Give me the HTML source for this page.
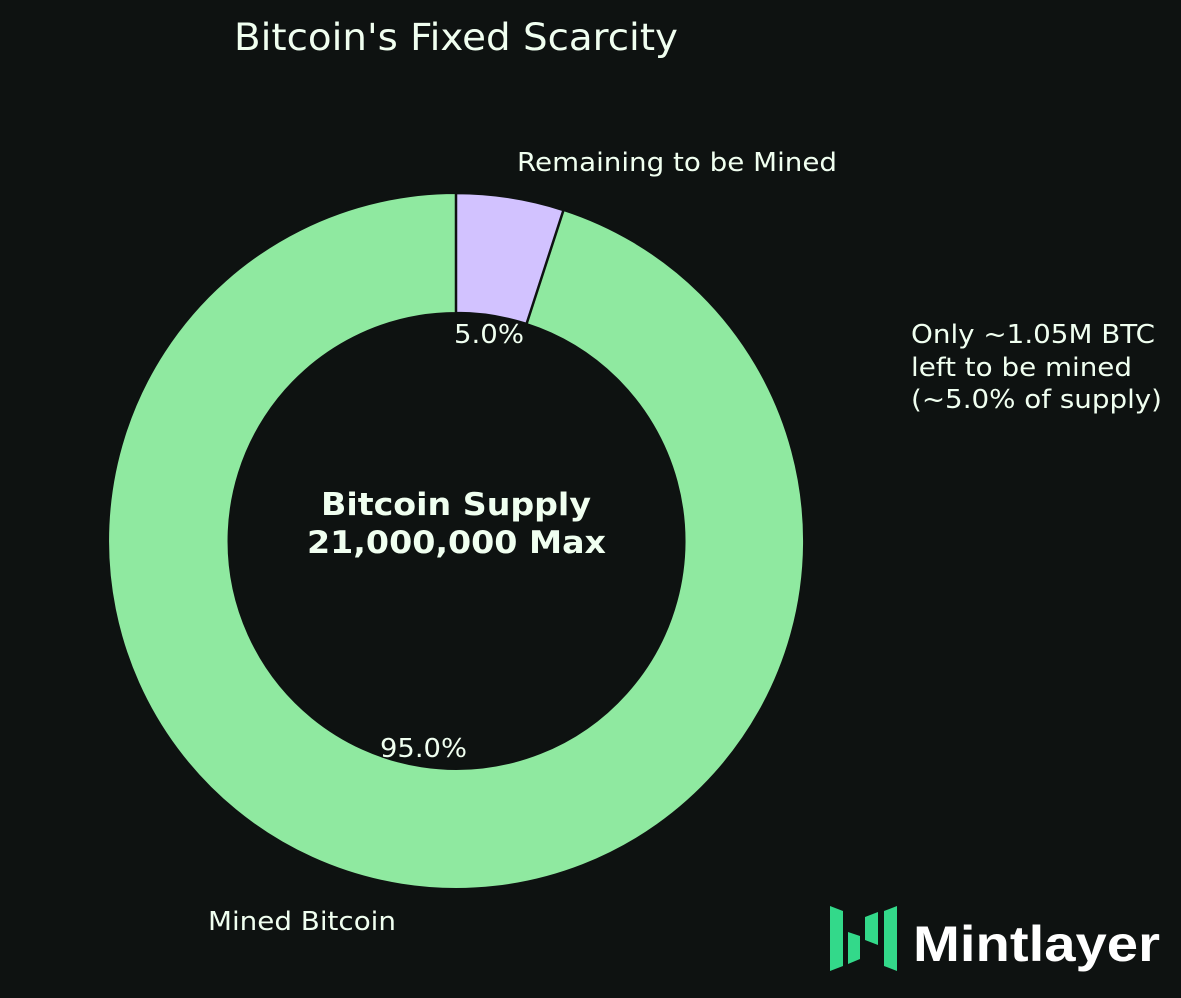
<!DOCTYPE html>
<html><head><style>
html,body{margin:0;padding:0;background:#0e1211;}
svg{display:block;}
</style></head><body>
<svg width="1181" height="998" viewBox="0 0 1181 998" xmlns="http://www.w3.org/2000/svg" font-family="DejaVu Sans, sans-serif">
<rect width="1181" height="998" fill="#0e1211"/>
<text x="234" y="50" font-size="37" fill="#f0fff0" textLength="444" lengthAdjust="spacingAndGlyphs">Bitcoin's Fixed Scarcity</text>
<path d="M563.5,210 A348,348 0 1 1 456,193 L456,313 A228,228 0 1 0 526.5,324 Z" fill="#8fe9a0" stroke="#0e1211" stroke-width="2"/>
<path d="M456,193 A348,348 0 0 1 563.5,210 L526.5,324 A228,228 0 0 0 456,313 Z" fill="#d2c2ff" stroke="#0e1211" stroke-width="2.5"/>
<text x="517" y="171" font-size="26" fill="#f0fff0" textLength="320" lengthAdjust="spacingAndGlyphs">Remaining to be Mined</text>
<text x="454" y="343" font-size="26" fill="#f0fff0" textLength="70" lengthAdjust="spacingAndGlyphs">5.0%</text>
<text x="380" y="757" font-size="26" fill="#f0fff0" textLength="87" lengthAdjust="spacingAndGlyphs">95.0%</text>
<text x="208" y="930" font-size="26" fill="#f0fff0" textLength="188" lengthAdjust="spacingAndGlyphs">Mined Bitcoin</text>
<text x="321" y="515" font-size="31" font-weight="bold" fill="#f0fff0" textLength="270" lengthAdjust="spacingAndGlyphs">Bitcoin Supply</text>
<text x="307" y="553" font-size="31" font-weight="bold" fill="#f0fff0" textLength="299" lengthAdjust="spacingAndGlyphs">21,000,000 Max</text>
<text x="911" y="343" font-size="26" fill="#f0fff0" textLength="244" lengthAdjust="spacingAndGlyphs">Only ~1.05M BTC</text>
<text x="911" y="376" font-size="26" fill="#f0fff0" textLength="221" lengthAdjust="spacingAndGlyphs">left to be mined</text>
<text x="911" y="408" font-size="26" fill="#f0fff0" textLength="251" lengthAdjust="spacingAndGlyphs">(~5.0% of supply)</text>
<g fill="#33d98a">
<polygon points="830,906 843,911 843,966 830,971"/>
<polygon points="848,932 860,936 860,959 848,964"/>
<polygon points="865,917 878,912 878,945 865,940"/>
<polygon points="884,911 897,906 897,971 884,966"/>
</g>
<text x="913" y="961" font-size="50" font-weight="bold" fill="#ffffff" font-family="Liberation Sans, sans-serif" textLength="247" lengthAdjust="spacingAndGlyphs">Mintlayer</text>
</svg>
</body></html>
